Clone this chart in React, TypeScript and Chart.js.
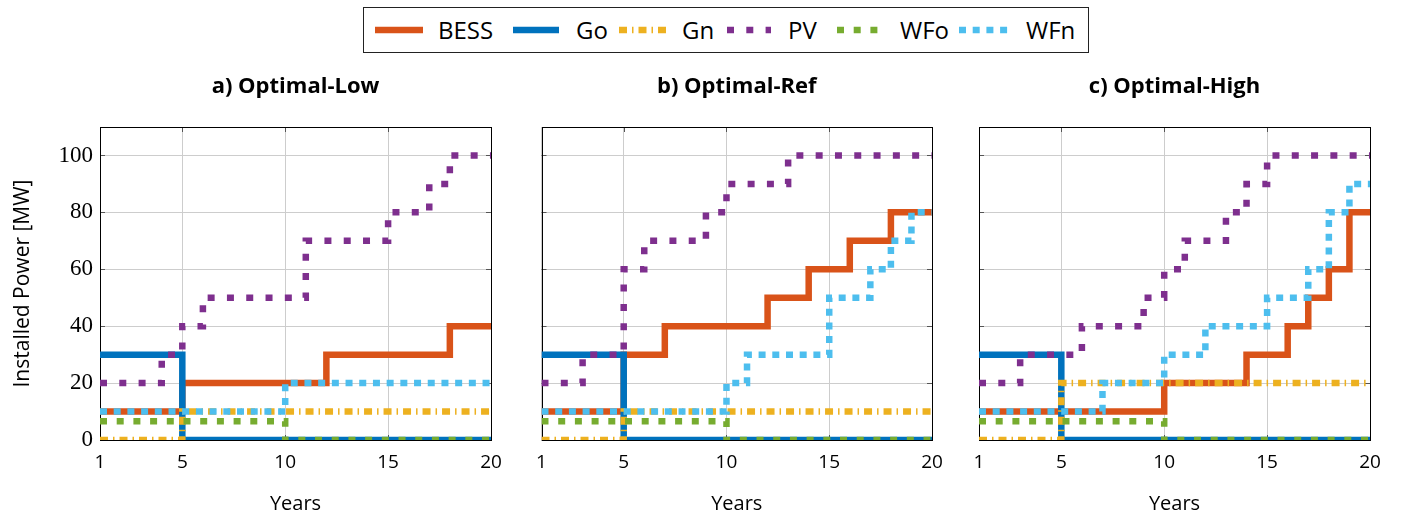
import React, { useEffect, useRef } from "react";
import { Chart, registerables } from "chart.js";

Chart.register(...registerables);

// ---------- data ----------
const years = [1, 2, 3, 4, 5, 6, 7, 8, 9, 10, 11, 12, 13, 14, 15, 16, 17, 18, 19, 20];
const xTicks = [1, 5, 10, 15, 20];
const yTicks = [0, 20, 40, 60, 80, 100];
const seriesNames = ["BESS", "Go", "Gn", "PV", "WFo", "WFn"];
const panelTitles = ["a) Optimal-Low", "b) Optimal-Ref", "c) Optimal-High"];
const xAxisTitle = "Years";
const yAxisTitle = "Installed Power [MW]";

// a) Optimal-Low
const bessLow = [10, 10, 10, 10, 20, 20, 20, 20, 20, 20, 20, 30, 30, 30, 30, 30, 30, 40, 40, 40];
const goLow = [30, 30, 30, 30, 0, 0, 0, 0, 0, 0, 0, 0, 0, 0, 0, 0, 0, 0, 0, 0];
const gnLow = [0, 0, 0, 0, 10, 10, 10, 10, 10, 10, 10, 10, 10, 10, 10, 10, 10, 10, 10, 10];
const pvLow = [20, 20, 20, 30, 40, 50, 50, 50, 50, 50, 70, 70, 70, 70, 80, 80, 90, 100, 100, 100];
const wfoLow = [6.6, 6.6, 6.6, 6.6, 6.6, 6.6, 6.6, 6.6, 6.6, 0, 0, 0, 0, 0, 0, 0, 0, 0, 0, 0];
const wfnLow = [10, 10, 10, 10, 10, 10, 10, 10, 10, 20, 20, 20, 20, 20, 20, 20, 20, 20, 20, 20];

// b) Optimal-Ref
const bessRef = [10, 10, 10, 10, 30, 30, 40, 40, 40, 40, 40, 50, 50, 60, 60, 70, 70, 80, 80, 80];
const goRef = [30, 30, 30, 30, 0, 0, 0, 0, 0, 0, 0, 0, 0, 0, 0, 0, 0, 0, 0, 0];
const gnRef = [0, 0, 0, 0, 10, 10, 10, 10, 10, 10, 10, 10, 10, 10, 10, 10, 10, 10, 10, 10];
const pvRef = [20, 20, 30, 30, 60, 70, 70, 70, 80, 90, 90, 90, 100, 100, 100, 100, 100, 100, 100, 100];
const wfoRef = [6.6, 6.6, 6.6, 6.6, 6.6, 6.6, 6.6, 6.6, 6.6, 0, 0, 0, 0, 0, 0, 0, 0, 0, 0, 0];
const wfnRef = [10, 10, 10, 10, 10, 10, 10, 10, 10, 20, 30, 30, 30, 30, 50, 50, 60, 70, 80, 80];

// c) Optimal-High
const bessHigh = [10, 10, 10, 10, 10, 10, 10, 10, 10, 20, 20, 20, 20, 30, 30, 40, 50, 60, 80, 80];
const goHigh = [30, 30, 30, 30, 0, 0, 0, 0, 0, 0, 0, 0, 0, 0, 0, 0, 0, 0, 0, 0];
const gnHigh = [0, 0, 0, 0, 20, 20, 20, 20, 20, 20, 20, 20, 20, 20, 20, 20, 20, 20, 20, 20];
const pvHigh = [20, 20, 30, 30, 30, 40, 40, 40, 50, 60, 70, 70, 80, 90, 100, 100, 100, 100, 100, 100];
const wfoHigh = [6.6, 6.6, 6.6, 6.6, 6.6, 6.6, 6.6, 6.6, 6.6, 0, 0, 0, 0, 0, 0, 0, 0, 0, 0, 0];
const wfnHigh = [10, 10, 10, 10, 10, 10, 20, 20, 20, 30, 30, 40, 40, 40, 50, 50, 60, 80, 90, 90];

const panelSeries = [
  [bessLow, goLow, gnLow, pvLow, wfoLow, wfnLow],
  [bessRef, goRef, gnRef, pvRef, wfoRef, wfnRef],
  [bessHigh, goHigh, gnHigh, pvHigh, wfoHigh, wfnHigh],
];

// ---------- styles ----------
const SANS = "'Open Sans', 'DejaVu Sans', sans-serif";
const SERIF = "'Liberation Serif', 'DejaVu Serif', serif";
const LINE_W = 6.5;
const seriesStyles = [
  { color: "#D95319", dash: [] as number[] },
  { color: "#0072BD", dash: [] as number[] },
  { color: "#EDB120", dash: [8, 5, 1.5, 5] },
  { color: "#7E2F8E", dash: [7, 12.3] },
  { color: "#77AC30", dash: [7, 9.7] },
  { color: "#4DBEEE", dash: [7, 6.7] },
];

const panelGeom = [
  { left: 0, width: 515, yAxisW: 100, padR: 24, showY: true },
  { left: 500, width: 456, yAxisW: 41.5, padR: 24, showY: false },
  { left: 950, width: 451, yAxisW: 29, padR: 31, showY: false },
];

const framePlugin = {
  id: "frameAndTicks",
  beforeDatasetsDraw(chart: any) {
    const { ctx, chartArea, scales } = chart;
    const { left, right, top, bottom } = chartArea;
    ctx.save();
    ctx.lineWidth = 1;
    ctx.strokeStyle = "#555";
    ctx.beginPath();
    xTicks.forEach((v) => {
      const px = Math.round(scales.x.getPixelForValue(v)) + 0.5;
      ctx.moveTo(px, bottom);
      ctx.lineTo(px, bottom - 5);
      ctx.moveTo(px, top);
      ctx.lineTo(px, top + 5);
    });
    yTicks.forEach((v) => {
      const py = Math.round(scales.y.getPixelForValue(v)) + 0.5;
      ctx.moveTo(left, py);
      ctx.lineTo(left + 5, py);
      ctx.moveTo(right, py);
      ctx.lineTo(right - 5, py);
    });
    ctx.stroke();
    ctx.strokeStyle = "#000";
    ctx.strokeRect(
      Math.round(left) + 0.5,
      Math.round(top) + 0.5,
      Math.round(right) - Math.round(left),
      Math.round(bottom) - Math.round(top)
    );
    ctx.restore();
  },
};

function Panel({ idx }: { idx: number }) {
  const ref = useRef<HTMLCanvasElement | null>(null);
  const g = panelGeom[idx];
  useEffect(() => {
    if (!ref.current) return;
    const series = panelSeries[idx];
    const chart = new Chart(ref.current, {
      type: "line",
      data: {
        datasets: seriesNames.map((name, i) => ({
          label: name,
          data: years.map((x, j) => ({ x, y: series[i][j] })),
          borderColor: seriesStyles[i].color,
          backgroundColor: seriesStyles[i].color,
          borderWidth: LINE_W,
          borderDash: seriesStyles[i].dash,
          borderCapStyle: "butt",
          borderJoinStyle: "miter",
          stepped: "before",
          pointRadius: 0,
          pointHoverRadius: 0,
          fill: false,
          order: seriesNames.length - 1 - i,
        })),
      },
      options: {
        animation: false,
        responsive: false,
        devicePixelRatio: 1,
        events: [],
        layout: { padding: { left: 0, right: g.padR, top: 0, bottom: 0 } },
        plugins: {
          legend: { display: false },
          tooltip: { enabled: false },
          title: {
            display: true,
            text: panelTitles[idx],
            fullSize: false,
            color: "#000",
            font: { family: SANS, size: 22, weight: "bold" },
            padding: { top: 14, bottom: 26.6 },
          },
        },
        scales: {
          x: {
            type: "linear",
            min: 1,
            max: 20,
            afterBuildTicks: (s: any) => {
              s.ticks = xTicks.map((v) => ({ value: v }));
            },
            afterFit: (s: any) => {
              s.height = 77;
            },
            grid: { color: "#cdcdcd", lineWidth: 1, drawTicks: false },
            border: { display: false },
            ticks: {
              padding: 11,
              color: "#000",
              maxRotation: 0,
              autoSkip: false,
              font: { family: SANS, size: 19 },
            },
            title: {
              display: true,
              text: xAxisTitle,
              color: "#000",
              font: { family: SANS, size: 20 },
              padding: { top: 0, bottom: 1 },
            },
          },
          y: {
            type: "linear",
            min: 0,
            max: 110,
            afterBuildTicks: (s: any) => {
              s.ticks = yTicks.map((v) => ({ value: v }));
            },
            afterFit: (s: any) => {
              s.width = g.yAxisW;
            },
            grid: { color: "#cdcdcd", lineWidth: 1, drawTicks: false },
            border: { display: false },
            ticks: {
              display: g.showY,
              padding: 7,
              color: "#000",
              font: { family: SERIF, size: 23 },
            },
            title: {
              display: g.showY,
              text: yAxisTitle,
              color: "#000",
              font: { family: SANS, size: 21 },
              padding: { top: 10, bottom: 0 },
            },
          },
        },
      } as any,
      plugins: [framePlugin],
    });
    return () => chart.destroy();
  }, [idx]);
  return (
    <canvas
      ref={ref}
      width={g.width}
      height={457}
      style={{ position: "absolute", left: g.left, top: 60, width: g.width, height: 457 }}
    />
  );
}

const legendLayout = [
  { sx: 11, sw: 48, tx: 74 },
  { sx: 149, sw: 46, tx: 212 },
  { sx: 255, sw: 47, tx: 318 },
  { sx: 363, sw: 44, tx: 424 },
  { sx: 473, sw: 41, tx: 536 },
  { sx: 595, sw: 53, tx: 662 },
];

function Legend() {
  return (
    <div
      style={{
        position: "absolute",
        left: 363,
        top: 7,
        width: 726,
        height: 46,
        boxSizing: "border-box",
        border: "1px solid #222",
        background: "#fff",
        fontFamily: SANS,
        fontSize: 24,
        color: "#000",
        zIndex: 2,
      }}
    >
      {seriesNames.map((name, i) => {
        const L = legendLayout[i];
        const st = seriesStyles[i];
        return (
          <React.Fragment key={name}>
            <svg
              width={L.sw}
              height={44}
              style={{ position: "absolute", left: L.sx, top: 0 }}
            >
              <line
                x1={0}
                y1={22}
                x2={L.sw}
                y2={22}
                stroke={st.color}
                strokeWidth={LINE_W}
                strokeDasharray={st.dash.length ? st.dash.join(" ") : undefined}
              />
            </svg>
            <span
              style={{
                position: "absolute",
                left: L.tx,
                top: 0,
                height: 44,
                lineHeight: "44px",
                whiteSpace: "nowrap",
              }}
            >
              {name}
            </span>
          </React.Fragment>
        );
      })}
    </div>
  );
}

export default function App() {
  return (
    <div
      style={{
        position: "absolute",
        left: 0,
        top: 0,
        width: 1401,
        height: 517,
        background: "#fff",
        overflow: "hidden",
      }}
    >
      <Legend />
      <Panel idx={0} />
      <Panel idx={1} />
      <Panel idx={2} />
    </div>
  );
}
